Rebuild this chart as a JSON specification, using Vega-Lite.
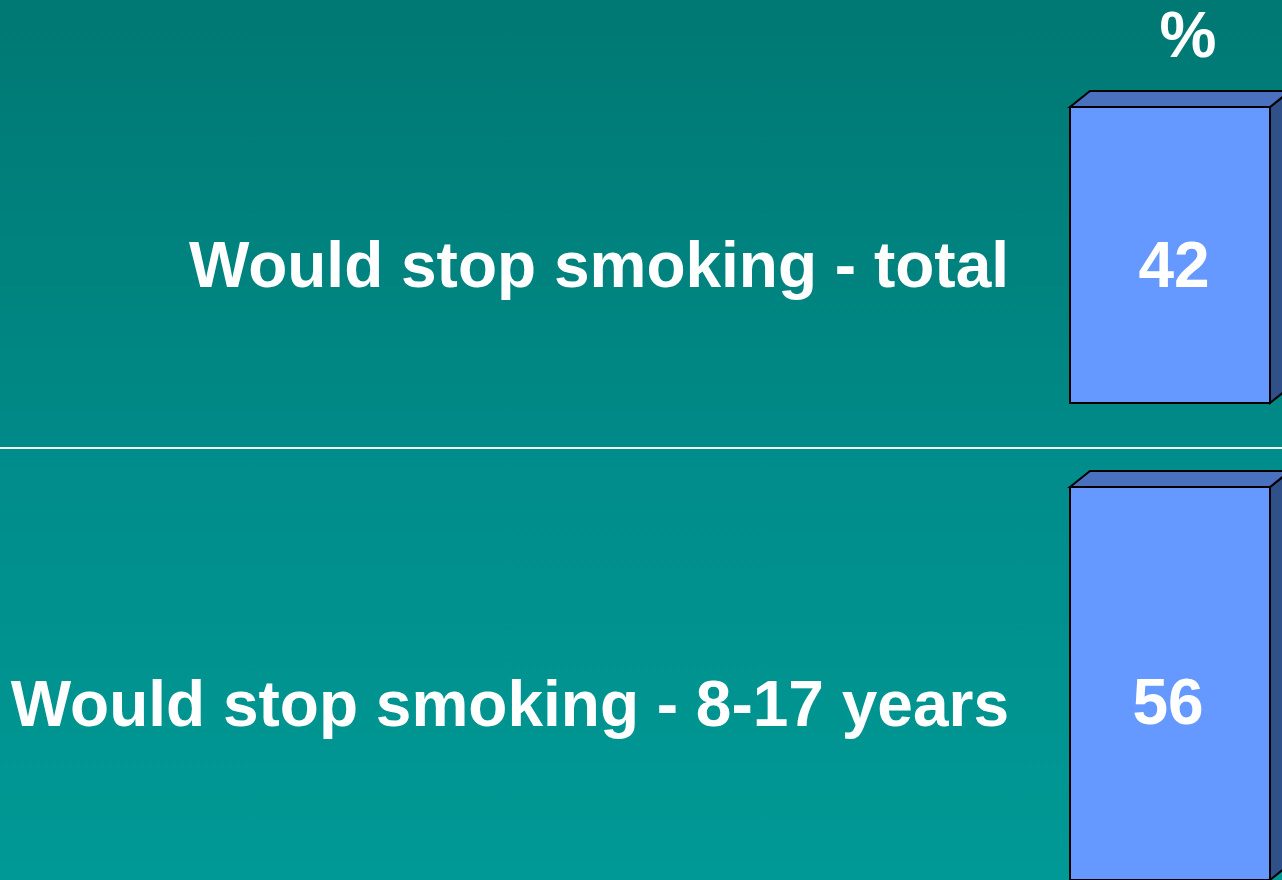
{
  "$schema": "https://vega.github.io/schema/vega-lite/v6.json",
  "padding": 0,
  "background": "#F2FAFA",
  "spacing": 2,
  "config": {"view": {"stroke": null}, "concat": {"spacing": 2}},
  "data": {"values": [
    {"group": "total", "label": "Would stop smoking - total", "slot": "A", "value": 42},
    {"group": "young", "label": "Would stop smoking - 8-17 years", "slot": "A", "value": 56}
  ]},
  "vconcat": [
    {
      "width": 1282,
      "height": 447,
      "transform": [{"filter": "datum.group == 'total'"}],
      "encoding": {
        "x": {"field": "slot", "type": "nominal", "axis": null, "scale": {"type": "band", "domain": ["A"], "range": [1070, 1270], "paddingInner": 0, "paddingOuter": 0}},
        "y": {"field": "value", "type": "quantitative", "axis": null, "scale": {"domain": [-6.243, 57.18], "nice": false, "zero": false}}
      },
      "layer": [
        {"mark": {"type": "rect", "fill": {"gradient": "linear", "x1": 0, "y1": 0, "x2": 0, "y2": 1, "stops": [{"offset": 0, "color": "#007873"}, {"offset": 1, "color": "#008A87"}]}}, "encoding": {"x": {"value": 0}, "x2": {"value": 1282}, "y": {"value": 0}, "y2": {"value": 447}}},
        {"mark": {"type": "point", "shape": "M1,0L1.2,-0.16L1.2,2.8L1,2.96Z", "size": 40000, "filled": true, "fill": "#30508A", "stroke": "#000000", "strokeWidth": 2, "opacity": 1}},
        {"mark": {"type": "point", "shape": "M-1,0L-0.8,-0.16L1.2,-0.16L1,0Z", "size": 40000, "filled": true, "fill": "#4A70C0", "stroke": "#000000", "strokeWidth": 2, "opacity": 1}},
        {"mark": {"type": "bar", "fill": "#6699FF", "stroke": "#000000", "strokeWidth": 2}, "encoding": {"y2": {"datum": 0}}},
        {"mark": {"type": "text", "align": "center", "baseline": "alphabetic", "dx": 4, "dy": 180, "font": "Liberation Sans", "fontWeight": "bold", "fontSize": 64, "fill": "#FFFFFF"}, "encoding": {"text": {"field": "value", "type": "quantitative"}}},
        {"mark": {"type": "text", "align": "right", "baseline": "alphabetic", "dx": -161, "dy": 180, "font": "Liberation Sans", "fontWeight": "bold", "fontSize": 64, "fill": "#FFFFFF"}, "encoding": {"text": {"field": "label", "type": "nominal"}}},
        {"mark": {"type": "text", "text": "%", "align": "center", "baseline": "alphabetic", "dx": 18, "dy": -50, "font": "Liberation Sans", "fontWeight": "bold", "fontSize": 64, "fill": "#FFFFFF"}}
      ]
    },
    {
      "width": 1282,
      "height": 431,
      "transform": [{"filter": "datum.group == 'young'"}],
      "encoding": {
        "x": {"field": "slot", "type": "nominal", "axis": null, "scale": {"type": "band", "domain": ["A"], "range": [1070, 1270], "paddingInner": 0, "paddingOuter": 0}},
        "y": {"field": "value", "type": "quantitative", "axis": null, "scale": {"domain": [0, 61.41], "nice": false, "zero": false}}
      },
      "layer": [
        {"mark": {"type": "rect", "fill": {"gradient": "linear", "x1": 0, "y1": 0, "x2": 0, "y2": 1, "stops": [{"offset": 0, "color": "#008C8A"}, {"offset": 1, "color": "#009995"}]}}, "encoding": {"x": {"value": 0}, "x2": {"value": 1282}, "y": {"value": 0}, "y2": {"value": 431}}},
        {"mark": {"type": "point", "shape": "M1,0L1.2,-0.16L1.2,3.77L1,3.93Z", "size": 40000, "filled": true, "fill": "#30508A", "stroke": "#000000", "strokeWidth": 2, "opacity": 1}},
        {"mark": {"type": "point", "shape": "M-1,0L-0.8,-0.16L1.2,-0.16L1,0Z", "size": 40000, "filled": true, "fill": "#4A70C0", "stroke": "#000000", "strokeWidth": 2, "opacity": 1}},
        {"mark": {"type": "bar", "fill": "#6699FF", "stroke": "#000000", "strokeWidth": 2}, "encoding": {"y2": {"datum": 0}}},
        {"mark": {"type": "text", "align": "center", "baseline": "alphabetic", "dx": -2, "dy": 237, "font": "Liberation Sans", "fontWeight": "bold", "fontSize": 64, "fill": "#FFFFFF"}, "encoding": {"text": {"field": "value", "type": "quantitative"}}},
        {"mark": {"type": "text", "align": "right", "baseline": "alphabetic", "dx": -161, "dy": 239, "font": "Liberation Sans", "fontWeight": "bold", "fontSize": 64, "fill": "#FFFFFF"}, "encoding": {"text": {"field": "label", "type": "nominal"}}}
      ]
    }
  ]
}
